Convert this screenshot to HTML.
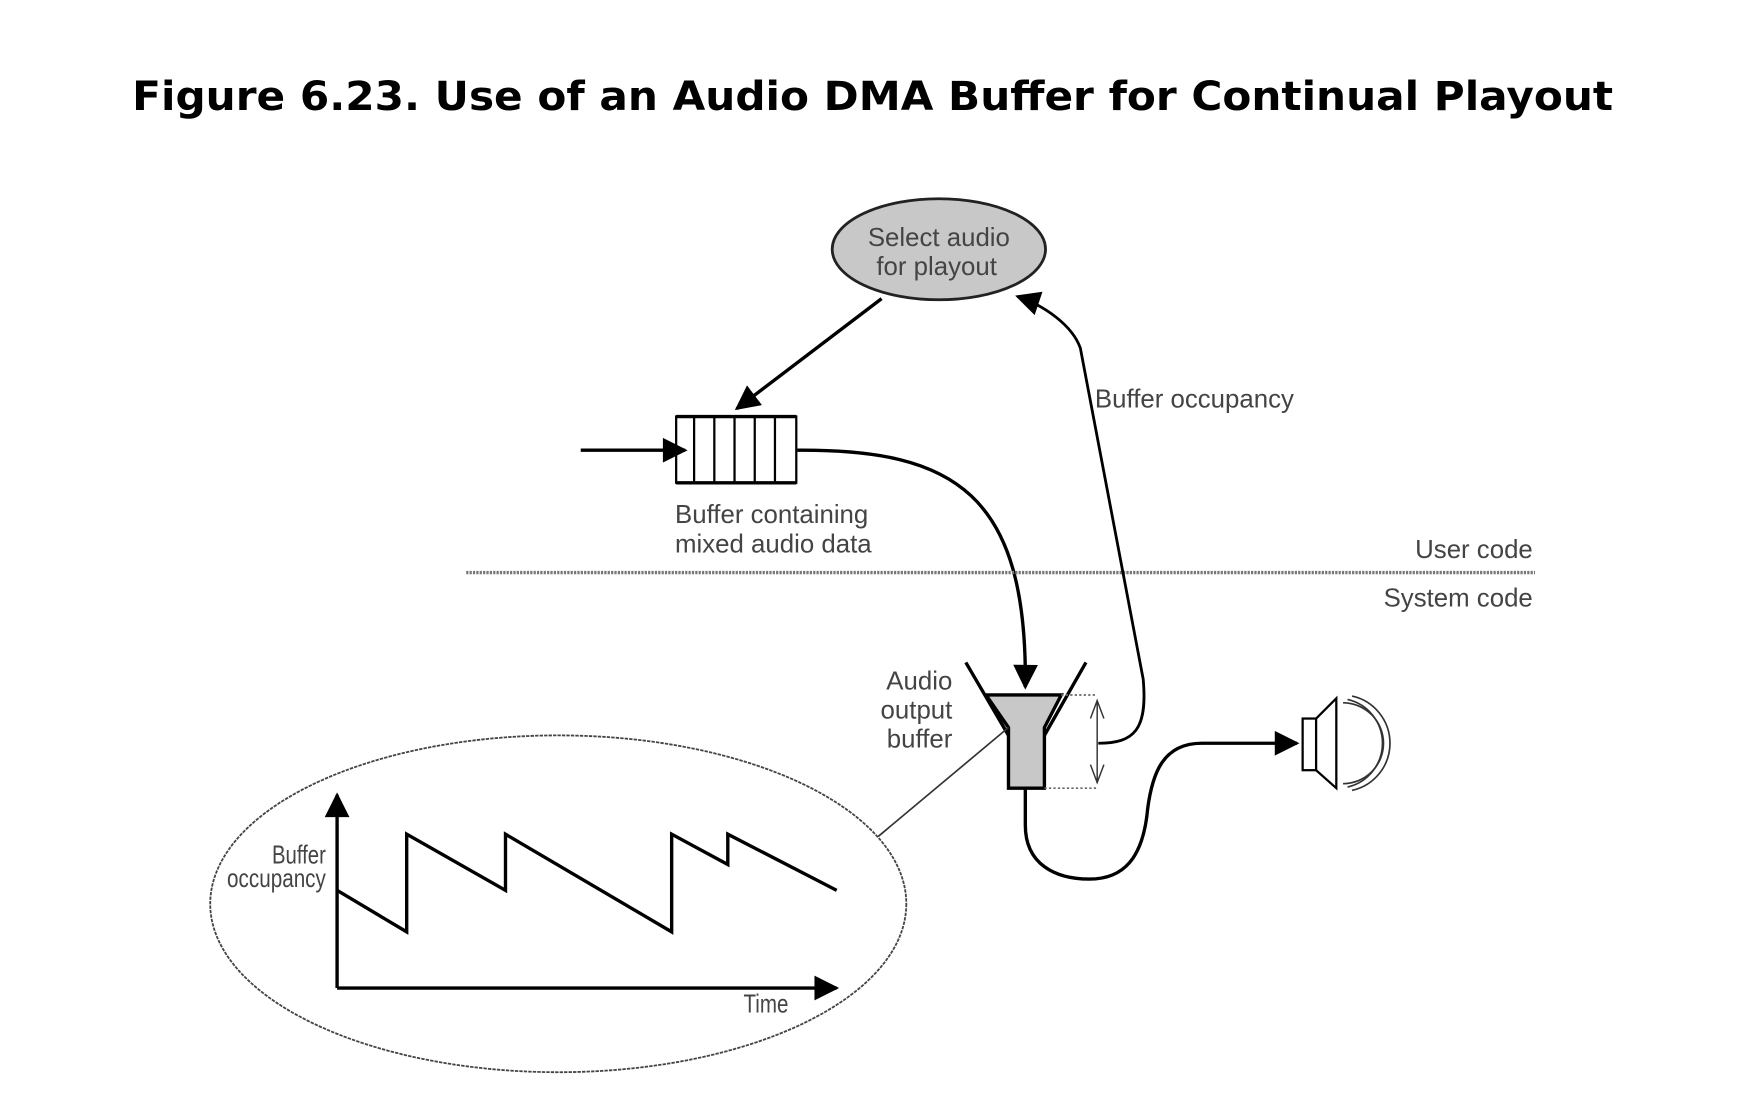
<!DOCTYPE html>
<html><head><meta charset="utf-8"><style>
html,body{margin:0;padding:0;background:#fff;width:1752px;height:1116px;overflow:hidden}
svg{display:block}
.t{font-family:"Liberation Sans",sans-serif;fill:#444;font-size:23px}
</style></head><body>
<svg width="1752" height="1116" viewBox="0 0 1560 994" xmlns="http://www.w3.org/2000/svg">
<defs>
<marker id="ah" viewBox="0 0 10 10" refX="9" refY="5" markerWidth="28" markerHeight="22" orient="auto" markerUnits="userSpaceOnUse"><path d="M0,0 L10,5 L0,10 z" fill="#000"/></marker>
</defs>
<text x="777" y="98" text-anchor="middle" font-family="DejaVu Sans, Liberation Sans, sans-serif" font-weight="bold" font-size="36" textLength="1319" lengthAdjust="spacingAndGlyphs">Figure 6.23. Use of an Audio DMA Buffer for Continual Playout</text>

<ellipse cx="836" cy="222" rx="95" ry="45" fill="#c8c8c8" stroke="#222" stroke-width="2.5"/>
<text class="t" x="836" y="219" text-anchor="middle">Select audio</text>
<text class="t" x="834" y="245" text-anchor="middle">for playout</text>

<line x1="785" y1="266" x2="656" y2="364" stroke="#000" stroke-width="3" marker-end="url(#ah)"/>
<line x1="517" y1="401" x2="610" y2="401" stroke="#000" stroke-width="3" marker-end="url(#ah)"/>

<g stroke="#000" fill="none">
<rect x="602" y="371" width="107" height="59" stroke-width="2"/>
<line x1="602" y1="371" x2="709" y2="371" stroke-width="3"/>
<line x1="602" y1="430" x2="709" y2="430" stroke-width="3"/>
<line x1="618" y1="371" x2="618" y2="430" stroke-width="2"/>
<line x1="636" y1="371" x2="636" y2="430" stroke-width="2"/>
<line x1="654" y1="371" x2="654" y2="430" stroke-width="2"/>
<line x1="672" y1="371" x2="672" y2="430" stroke-width="2"/>
<line x1="690" y1="371" x2="690" y2="430" stroke-width="2"/>
</g>
<path d="M710,401 C850,400 915,440 913,612" fill="none" stroke="#000" stroke-width="3" marker-end="url(#ah)"/>
<text class="t" x="601" y="466">Buffer containing</text>
<text class="t" x="601" y="492">mixed audio data</text>

<line x1="415" y1="510" x2="1367" y2="510" stroke="#777" stroke-width="3" stroke-dasharray="2 1"/>
<text class="t" x="1365" y="497" text-anchor="end">User code</text>
<text class="t" x="1365" y="540" text-anchor="end">System code</text>

<path d="M978,662 C1010,662 1022,650 1018,605 L962,310 C955,290 930,272 906,264" fill="none" stroke="#000" stroke-width="2.5" marker-end="url(#ah)"/>
<text class="t" x="975" y="363">Buffer occupancy</text>

<path d="M878,619 L945,619 L930,648 L930,702 L898,702 L898,648 Z" fill="#c8c8c8" stroke="#000" stroke-width="3"/>
<line x1="860" y1="590" x2="898" y2="655" stroke="#000" stroke-width="3"/>
<line x1="967" y1="590" x2="930" y2="655" stroke="#000" stroke-width="3"/>
<line x1="945" y1="619" x2="977" y2="619" stroke="#666" stroke-width="1.5" stroke-dasharray="2 2"/>
<line x1="930" y1="702" x2="977" y2="702" stroke="#666" stroke-width="1.5" stroke-dasharray="2 2"/>
<line x1="977" y1="624" x2="977" y2="697" stroke="#333" stroke-width="1.3"/>
<path d="M971,640 L977,624 L983,640 M971,681 L977,697 L983,681" fill="none" stroke="#333" stroke-width="1.3"/>
<text class="t" x="848" y="614" text-anchor="end">Audio</text>
<text class="t" x="848" y="640" text-anchor="end">output</text>
<text class="t" x="848" y="666" text-anchor="end">buffer</text>
<line x1="898" y1="648" x2="782" y2="745" stroke="#333" stroke-width="1.5"/>

<path d="M913,702 L913,735 C913,770 940,783 970,783 C1000,783 1018,765 1022,720 C1026,690 1035,662 1070,662 L1155,662" fill="none" stroke="#000" stroke-width="3" marker-end="url(#ah)"/>
<g fill="#fff" stroke="#000" stroke-width="2">
<rect x="1160" y="640" width="12" height="46"/>
<path d="M1172,640 L1190,622 L1190,702 L1172,686 Z"/>
</g>
<g fill="none" stroke="#333" stroke-width="1.5">
<path d="M1196,626 A36,36 0 0 1 1196,698"/>
<path d="M1200,623 A40,40 0 0 1 1200,701"/>
<path d="M1204,620 A43,43 0 0 1 1204,704"/>
</g>

<ellipse cx="497" cy="805" rx="310" ry="150" fill="none" stroke="#444" stroke-width="1.6" stroke-dasharray="3 1"/>
<line x1="300" y1="880" x2="300" y2="708" stroke="#000" stroke-width="3" marker-end="url(#ah)"/>
<line x1="300" y1="880" x2="745" y2="880" stroke="#000" stroke-width="3" marker-end="url(#ah)"/>
<polyline points="300,793 362,830 362,743 450,793 450,743 598,830 598,743 648,770 648,743 745,793" fill="none" stroke="#000" stroke-width="3"/>
<text class="t" x="290" y="769" text-anchor="end" font-size="15" textLength="48" lengthAdjust="spacingAndGlyphs">Buffer</text>
<text class="t" x="290" y="790" text-anchor="end" font-size="15" textLength="88" lengthAdjust="spacingAndGlyphs">occupancy</text>
<text class="t" x="662" y="902" font-size="15" textLength="40" lengthAdjust="spacingAndGlyphs">Time</text>
</svg>
</body></html>
